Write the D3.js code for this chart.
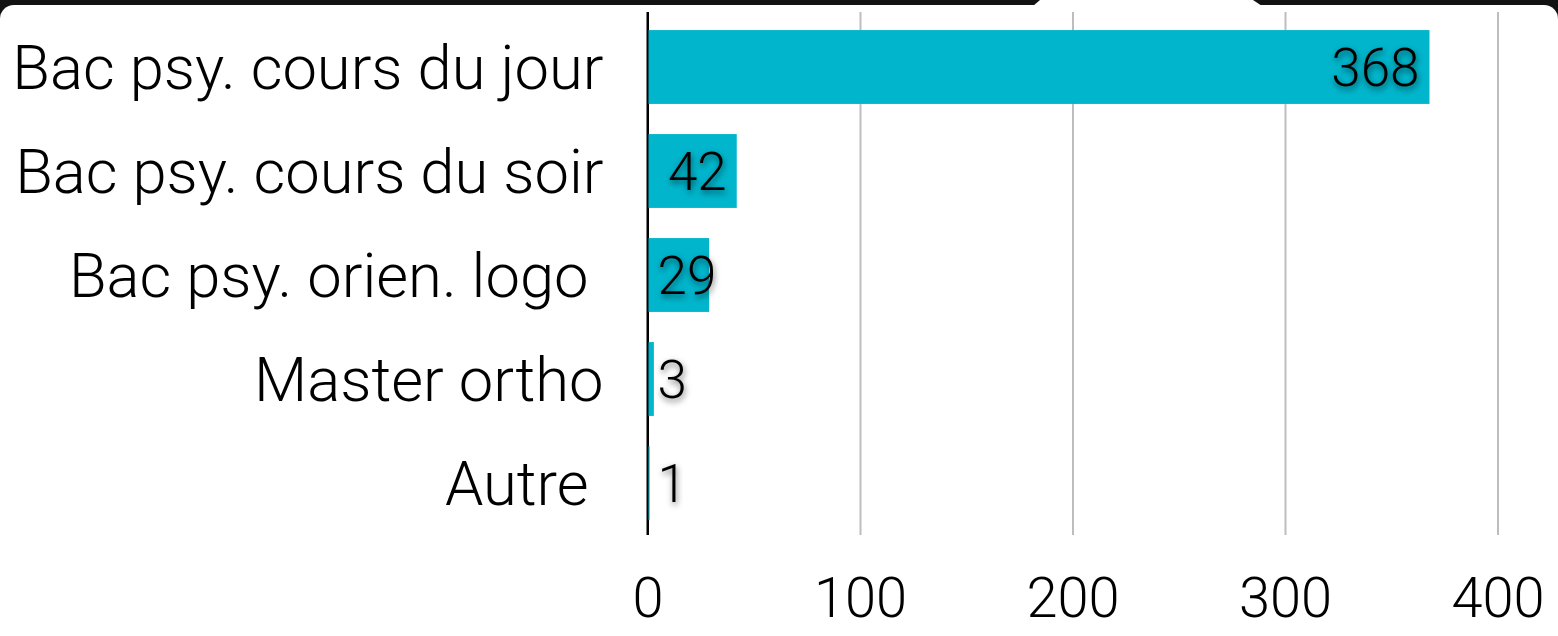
<!DOCTYPE html>
<html>
<head>
<meta charset="utf-8">
<script src="https://cdn.jsdelivr.net/npm/d3@7/dist/d3.min.js"></script>
<style>
  html, body { margin: 0; padding: 0; background: #111; }
  svg { display: block; }
  text { font-family: Roboto, "Helvetica Neue", Arial, sans-serif; font-weight: 300; white-space: pre; }
</style>
</head>
<body>
<svg id="chart" width="1558" height="636"></svg>
<script>
const categories = ["Bac psy. cours du jour", "Bac psy. cours du soir", "Bac psy. orien. logo ", "Master ortho", "Autre "];
const values = [368, 42, 29, 3, 1];
const tickValues = [0, 100, 200, 300, 400];

const W = 1558, H = 636;
const svg = d3.select("#chart");

// background frame: black top strip, white rounded card with notch
svg.append("rect").attr("x", 0).attr("y", 0).attr("width", W).attr("height", H).attr("fill", "#121212");
svg.append("rect").attr("x", 0).attr("y", 5).attr("width", W).attr("height", H + 20)
  .attr("rx", 14).attr("ry", 14).attr("fill", "#ffffff");
svg.append("path").attr("d", "M1040,0 L1253,0 L1262,6 L1033,6 Z").attr("fill", "#ffffff");

const x = d3.scaleLinear().domain([0, 400]).range([647.5, 1497.5]);
const y = d3.scaleBand().domain(categories).range([15, 535]).paddingInner(0.29).paddingOuter(0.145);

// grid + x tick labels
const xAxis = d3.axisBottom(x).tickValues(tickValues).tickSizeInner(-523).tickSizeOuter(0).tickPadding(42);
const gx = svg.append("g").attr("transform", "translate(0,535)").call(xAxis);
gx.select(".domain").remove();
gx.selectAll(".tick line")
  .attr("stroke", d => d === 0 ? "#000" : "#bdbdbd")
  .attr("stroke-width", 2);
gx.selectAll(".tick text")
  .attr("fill", "#000")
  .style("font-size", "56px");

// bars
svg.append("g").selectAll("rect")
  .data(values)
  .join("rect")
  .attr("x", x(0))
  .attr("y", (d, i) => y(categories[i]))
  .attr("width", d => x(d) - x(0))
  .attr("height", y.bandwidth())
  .attr("fill", "#00b5cc");

// redraw zero axis line on top
svg.append("line").attr("x1", x(0)).attr("x2", x(0)).attr("y1", 12).attr("y2", 535)
  .attr("stroke", "#000").attr("stroke-width", 2);

// category labels
const yAxis = d3.axisLeft(y).tickSize(0).tickPadding(44);
const gy = svg.append("g").attr("transform", `translate(${x(0)},0)`).call(yAxis);
gy.select(".domain").remove();
gy.selectAll(".tick text").attr("fill", "#000").style("font-size", "61.5px").attr("dy", "0.36em");

// shadow filter
const defs = svg.append("defs");
const f = defs.append("filter").attr("id", "shadow").attr("x", "-30%").attr("y", "-30%").attr("width", "160%").attr("height", "160%");
f.append("feDropShadow").attr("dx", 1).attr("dy", 3).attr("stdDeviation", 3)
  .attr("flood-color", "#000").attr("flood-opacity", 0.55);

// value labels
const pad = 10;
const vl = svg.append("g").selectAll("text")
  .data(values)
  .join("text")
  .attr("y", (d, i) => y(categories[i]) + y.bandwidth() / 2)
  .attr("dy", "0.36em")
  .attr("fill", "#000")
  .attr("filter", "url(#shadow)")
  .style("font-size", "53px")
  .text(d => d);
vl.each(function(d) {
  const w = this.getComputedTextLength();
  const bw = x(d) - x(0);
  const t = d3.select(this);
  if (w + 2 * pad < bw) {
    t.attr("x", x(d) - pad).attr("text-anchor", "end");
  } else {
    t.attr("x", x(0) + pad).attr("text-anchor", "start");
  }
});
</script>
</body>
</html>
